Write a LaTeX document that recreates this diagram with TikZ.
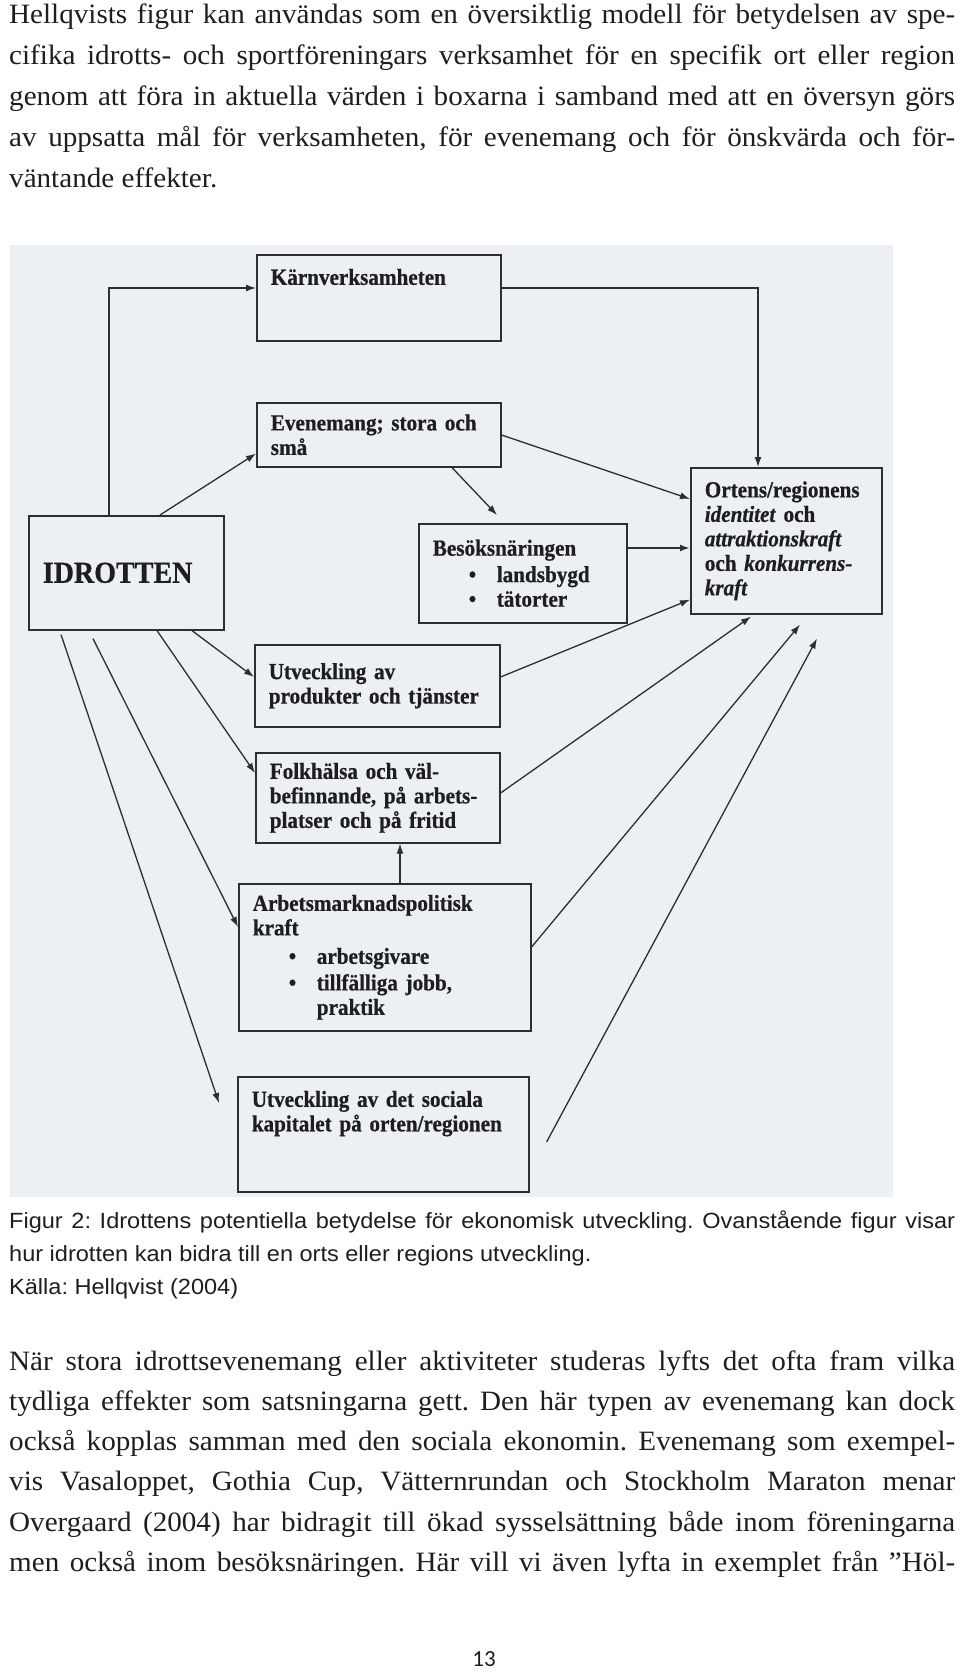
\documentclass[tikz,border=0pt]{standalone}
\usepackage{fontspec}
\setmainfont{Liberation Serif}
\newfontfamily\bodyfont[FakeStretch=1.04]{Liberation Serif}
\newfontfamily\figfont[FakeStretch=0.92, BoldFeatures={FakeBold=0.6}, BoldItalicFeatures={FakeBold=0.6}]{Liberation Serif}
\newfontfamily\capfont[FakeStretch=1.07]{Liberation Sans}
\newfontfamily\numfont{Carlito}
\usetikzlibrary{arrows.meta,positioning}
\definecolor{Ink}{RGB}{30,30,30}
\definecolor{Frame}{RGB}{45,45,50}
\definecolor{Scan}{RGB}{236,239,243}
\tolerance=10000
\hyphenpenalty=10000
\frenchspacing
\newcommand{\blt}[1]{\hspace*{36pt}\makebox[28pt][l]{\textbullet}#1}

\begin{document}
\begin{tikzpicture}[x=1pt, y=-1pt,
  box/.style={draw=Frame, line width=1.6pt, anchor=north west, inner xsep=14pt, inner ysep=3pt, align=left, text=Ink, font=\figfont\fontsize{23}{24.5}\selectfont\bfseries},
  arr/.style={draw=Frame, line width=1.3pt, -{Latex[length=10pt,width=7pt]}},
  body/.style={anchor=base west, inner sep=0pt, text width=946pt, align=justify, text=Ink}]
\useasboundingbox (0,0) rectangle (960,1672);
\fill[white] (0,0) rectangle (960,1672);
\fill[Scan] (10,245) rectangle (893,1197);

\node[body, font=\bodyfont\fontsize{28}{41}\selectfont] (intro) at (9,24) {Hellqvists figur kan användas som en översiktlig modell för betydelsen av spe-\linebreak cifika idrotts- och sportföreningars verksamhet för en specifik ort eller region\linebreak genom att föra in aktuella värden i boxarna i samband med att en översyn görs\linebreak av uppsatta mål för verksamheten, för evenemang och för önskvärda och för-\linebreak väntande effekter.};

\node[box, text width=216pt, text height=27pt, text depth=53pt] (karn) at (256,254) {Kärnverksamheten};
\node[box, text width=216pt, minimum height=64pt] (evenemang) at (256,402) {Evenemang; stora och\\små};
\node[box, text width=167pt, minimum height=114pt, font=\figfont\fontsize{30.5}{32}\selectfont\bfseries] (idrotten) at (28,515) {IDROTTEN};
\node[box, text width=180pt, minimum height=99pt] (besok) at (418,523) {Besöksnäringen\\[2pt]\blt{landsbygd}\\\blt{tätorter}};
\node[box, text width=163pt, minimum height=146pt] (ortens) at (690,467) {Ortens/regionens\\\textit{identitet} och\\\textit{attraktionskraft}\\och \textit{konkurrens-}\\\textit{kraft}};
\node[box, text width=217pt, minimum height=82pt] (produkter) at (254,644) {Utveckling av\\produkter och tjänster};
\node[box, text width=216pt, minimum height=90pt] (folkhalsa) at (255,752) {Folkhälsa och väl-\\befinnande, på arbets-\\platser och på fritid};
\node[box, text width=264pt, minimum height=147pt] (arbete) at (238,883) {Arbetsmarknadspolitisk\\kraft\\[4pt]\blt{arbetsgivare}\\[2pt]\blt{tillfälliga jobb,}\\\hspace*{64pt}praktik};
\node[box, text width=263pt, text height=27pt, text depth=82pt] (socialt) at (237,1076) {Utveckling av det sociala\\kapitalet på orten/regionen};

\draw[arr] ([xshift=81pt]idrotten.north west) |- ([yshift=-34pt]karn.north west);
\draw[arr] ([yshift=-34pt]karn.north east) -| ([xshift=68pt]ortens.north west);
\draw[arr] ([xshift=132pt]idrotten.north west) -- ([yshift=14pt]evenemang.south west);
\draw[arr] ([yshift=-33pt]evenemang.north east) -- ([yshift=-32pt]ortens.north west);
\draw[arr] ([xshift=196pt]evenemang.south west) -- ([xshift=79pt,yshift=8pt]besok.north west);
\draw[arr, line width=2.6pt] ([yshift=-25pt]besok.north east) -- ([yshift=-81pt]ortens.north west);
\draw[arr] ([yshift=-33pt]produkter.north east) -- ([yshift=15pt]ortens.south west);
\draw[arr] ([yshift=-41pt]folkhalsa.north east) -- ([xshift=61pt,yshift=-2pt]ortens.south west);
\draw[arr] ([yshift=-64pt]arbete.north east) -- ([xshift=110pt,yshift=-10pt]ortens.south west);
\draw[arr] ([xshift=17pt,yshift=-66pt]socialt.north east) -- ([xshift=127pt,yshift=-24pt]ortens.south west);
\draw[arr] ([xshift=164pt]idrotten.south west) -- ([yshift=-33pt]produkter.north west);
\draw[arr] ([xshift=129pt]idrotten.south west) -- ([yshift=-21pt]folkhalsa.north west);
\draw[arr] ([xshift=65pt,yshift=-8pt]idrotten.south west) -- ([yshift=-44pt]arbete.north west);
\draw[arr] ([xshift=33pt,yshift=-4pt]idrotten.south west) -- ([xshift=-18pt,yshift=-27pt]socialt.north west);
\draw[arr] ([xshift=162pt]arbete.north west) -- ([xshift=145pt]folkhalsa.south west);

\node[body, font=\capfont\fontsize{22}{33}\selectfont] (caption) at (9,1228) {Figur 2: Idrottens potentiella betydelse för ekonomisk utveckling. Ovanstående figur visar\linebreak hur idrotten kan bidra till en orts eller regions utveckling.\\Källa: Hellqvist (2004)};

\node[body, font=\bodyfont\fontsize{28}{40.3}\selectfont] (events) at (9,1370) {\parfillskip=0pt När stora idrottsevenemang eller aktiviteter studeras lyfts det ofta fram vilka\linebreak tydliga effekter som satsningarna gett. Den här typen av evenemang kan dock\linebreak också kopplas samman med den sociala ekonomin. Evenemang som exempel-\linebreak vis Vasaloppet, Gothia Cup, Vätternrundan och Stockholm Maraton menar\linebreak Overgaard (2004) har bidragit till ökad sysselsättning både inom föreningarna\linebreak men också inom besöksnäringen. Här vill vi även lyfta in exemplet från ”Höl-\par};

\node[anchor=base, inner sep=0pt, text=Ink, font=\numfont\fontsize{23}{26}\selectfont] (pagenum) at (484,1666) {13};
\end{tikzpicture}
\end{document}
